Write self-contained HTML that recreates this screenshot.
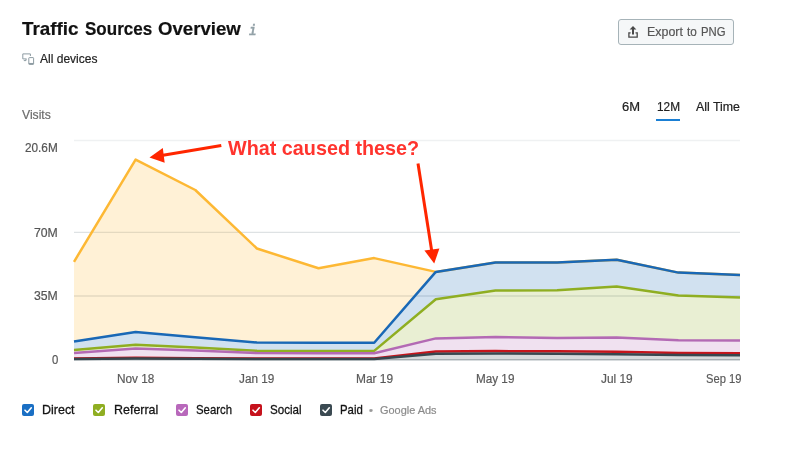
<!DOCTYPE html>
<html><head><meta charset="utf-8">
<title>Traffic Sources Overview</title>
<style>
html,body{margin:0;padding:0;background:#fff;}
body{width:790px;height:452px;position:relative;overflow:hidden;font-family:"Liberation Sans",sans-serif;color:#222;}
.abs{position:absolute;}
.t{position:absolute;white-space:nowrap;line-height:1;transform-origin:0 0;-webkit-text-stroke:0.2px currentColor;}
#info{left:249px;top:23.6px;font-size:14px;font-style:italic;font-family:"Liberation Mono",monospace;color:#94a2a8;font-weight:bold;line-height:1;transform:scaleX(0.88);transform-origin:0 0;-webkit-text-stroke:0.3px #94a2a8;}
#btn{left:618px;top:19px;width:114px;height:24px;border:1px solid #a6b3b8;border-radius:3px;background:#f5f7f8;}
#ul{left:656px;top:119px;width:24px;height:2px;background:#1a7fd4;}
.cb{position:absolute;top:404px;width:12px;height:12px;border-radius:2px;}
</style></head><body>
<div id="info" class="abs">i</div>
<svg class="abs" style="left:21px;top:52px" width="14" height="14" viewBox="0 0 14 14"><g fill="none" stroke="#8e9ca3" stroke-width="1"><path d="M9.4 4V1.9H1.8V6.9H5.6"/><path d="M5 7V8.6H2.8"/><rect x="7.8" y="5.6" width="4.8" height="6.8" rx="0.6"/><path d="M7.8 11.6H12.6" stroke-width="1.3"/></g></svg>
<div id="btn" class="abs"></div>
<svg class="abs" style="left:627px;top:25px" width="12" height="14" viewBox="0 0 12 14"><path d="M6 1.1L9.4 4.5H7V9.6H5V4.5H2.6Z" fill="#484848"/><path d="M3.6 7.8H1.9V12.2H10.2V7.8H8.5" fill="none" stroke="#484848" stroke-width="1.3"/></svg>
<div id="ul" class="abs"></div>
<svg class="abs" style="left:0;top:0" width="790" height="452" viewBox="0 0 790 452">
<g stroke-width="1.4"><line x1="74" x2="740" y1="140.5" y2="140.5" stroke="#eff1f2"/><line x1="74" x2="740" y1="232.4" y2="232.4" stroke="#dee2e4"/><line x1="74" x2="740" y1="296" y2="296" stroke="#dee2e4"/></g>
<line x1="74" x2="740" y1="359.7" y2="359.7" stroke="#c3cacc" stroke-width="1.6"/>
<polygon fill="#fdb834" fill-opacity="0.2" points="74,261.8 135.6,159.6 195.3,190 256.9,248.5 318.5,268.3 374.2,258.1 435.8,271.9 435.8,271.9 374.2,342.7 318.5,342.7 256.9,342.5 195.3,337.3 135.6,332 74,341.5"/>
<polygon fill="#1968b6" fill-opacity="0.2" points="74,341.5 135.6,332 195.3,337.3 256.9,342.5 318.5,342.7 374.2,342.7 435.8,271.9 495.5,262.4 557.1,262.4 616.7,259.7 678.4,272.6 740,275.1 740,297.4 678.4,295.4 616.7,286.5 557.1,290.2 495.5,290.5 435.8,299.2 374.2,350.9 318.5,350.9 256.9,350.8 195.3,347.6 135.6,344.7 74,350"/>
<polygon fill="#8fae22" fill-opacity="0.2" points="74,350 135.6,344.7 195.3,347.6 256.9,350.8 318.5,350.9 374.2,350.9 435.8,299.2 495.5,290.5 557.1,290.2 616.7,286.5 678.4,295.4 740,297.4 740,340.4 678.4,340.2 616.7,337.4 557.1,337.9 495.5,337 435.8,338.4 374.2,353.3 318.5,353.3 256.9,353.1 195.3,350.6 135.6,348.5 74,352.9"/>
<polygon fill="#b36ab4" fill-opacity="0.2" points="74,352.9 135.6,348.5 195.3,350.6 256.9,353.1 318.5,353.3 374.2,353.3 435.8,338.4 495.5,337 557.1,337.9 616.7,337.4 678.4,340.2 740,340.4 740,353.2 678.4,353 616.7,351.8 557.1,351.3 495.5,351.1 435.8,351.6 374.2,358.5 318.5,358.5 256.9,358.5 195.3,358.3 135.6,357.8 74,358.5"/>
<polygon fill="#c5141b" fill-opacity="0.2" points="74,358.5 135.6,357.8 195.3,358.3 256.9,358.5 318.5,358.5 374.2,358.5 435.8,351.6 495.5,351.1 557.1,351.3 616.7,351.8 678.4,353 740,353.2 740,355.2 678.4,355 616.7,354.2 557.1,353.7 495.5,353.5 435.8,353.7 374.2,358.9 318.5,358.9 256.9,358.9 195.3,358.8 135.6,358.5 74,358.9"/>
<polygon fill="#37474f" fill-opacity="0.2" points="74,358.9 135.6,358.5 195.3,358.8 256.9,358.9 318.5,358.9 374.2,358.9 435.8,353.7 495.5,353.5 557.1,353.7 616.7,354.2 678.4,355 740,355.2 740,360.3 678.4,360.3 616.7,360.3 557.1,360.3 495.5,360.3 435.8,360.3 374.2,360.3 318.5,360.3 256.9,360.3 195.3,360.3 135.6,360.3 74,360.3"/>
<g fill="none" stroke-width="2.5" stroke-linejoin="round">
<polyline stroke="#fdb834" points="74,261.8 135.6,159.6 195.3,190 256.9,248.5 318.5,268.3 374.2,258.1 435.8,271.9 495.5,262.4 557.1,262.4 616.7,259.7 678.4,272.6 740,275.1"/>
<polyline stroke="#1968b6" points="74,341.5 135.6,332 195.3,337.3 256.9,342.5 318.5,342.7 374.2,342.7 435.8,271.9 495.5,262.4 557.1,262.4 616.7,259.7 678.4,272.6 740,275.1"/>
<polyline stroke="#8fae22" points="74,350 135.6,344.7 195.3,347.6 256.9,350.8 318.5,350.9 374.2,350.9 435.8,299.2 495.5,290.5 557.1,290.2 616.7,286.5 678.4,295.4 740,297.4"/>
<polyline stroke="#b36ab4" points="74,352.9 135.6,348.5 195.3,350.6 256.9,353.1 318.5,353.3 374.2,353.3 435.8,338.4 495.5,337 557.1,337.9 616.7,337.4 678.4,340.2 740,340.4"/>
<polyline stroke="#c5141b" points="74,358.5 135.6,357.8 195.3,358.3 256.9,358.5 318.5,358.5 374.2,358.5 435.8,351.6 495.5,351.1 557.1,351.3 616.7,351.8 678.4,353 740,353.2"/>
<polyline stroke="#37474f" points="74,358.9 135.6,358.5 195.3,358.8 256.9,358.9 318.5,358.9 374.2,358.9 435.8,353.7 495.5,353.5 557.1,353.7 616.7,354.2 678.4,355 740,355.2"/>
</g>
<g stroke="#ff2600" stroke-width="3" fill="#ff2600">
<line x1="221.3" y1="145.6" x2="160" y2="155.8"/>
<polygon stroke="none" points="149.5,157.6 162.8,148.1 164.7,162.7"/>
<line x1="418" y1="163.5" x2="432" y2="252.8"/>
<polygon stroke="none" points="434.2,263.5 424.4,250.4 439.4,248.6"/>
</g>
<text x="228" y="154.6" textLength="191.2" lengthAdjust="spacingAndGlyphs" style="font-family:'Liberation Sans',sans-serif;font-weight:bold;font-size:20.5px" fill="#ff342e">What caused these?</text>
</svg>
<h1 style="margin:0;font-size:inherit;font-weight:inherit">
<span class="t" style="left:22.4px;top:19.74px;font-size:18.5px;color:#111;transform:scaleX(1.0174);font-weight:bold;">Traffic</span> 
<span class="t" style="left:84.7px;top:19.74px;font-size:18.5px;color:#111;transform:scaleX(0.9204);font-weight:bold;">Sources</span> 
<span class="t" style="left:158.3px;top:19.74px;font-size:18.5px;color:#111;transform:scaleX(1.0051);font-weight:bold;">Overview</span> 
</h1>
<div class="t" style="left:40px;top:53.22px;font-size:12.5px;color:#222;transform:scaleX(0.9623);">All devices</div>
<div class="t" style="left:22.4px;top:109.42px;font-size:12.5px;color:#6b6b6b;transform:scaleX(0.9716);">Visits</div>
<div class="t" style="left:647.4px;top:26.42px;font-size:12.5px;color:#555;transform:scaleX(0.9933);">Export</div>
<div class="t" style="left:687px;top:26.42px;font-size:12.5px;color:#555;transform:scaleX(0.9389);">to</div>
<div class="t" style="left:700.8px;top:26.42px;font-size:12.5px;color:#555;transform:scaleX(0.9043);">PNG</div>
<div class="t" style="left:622px;top:100.84px;font-size:12px;color:#222;transform:scaleX(1.0797);">6M</div>
<div class="t" style="left:657px;top:100.84px;font-size:12px;color:#222;transform:scaleX(0.9853);">12M</div>
<div class="t" style="left:696px;top:100.84px;font-size:12px;color:#222;transform:scaleX(1.0307);">All Time</div>
<div class="t" style="left:24.7px;top:142.47px;font-size:12.2px;color:#555;transform:scaleX(0.9653);">20.6M</div>
<div class="t" style="left:34px;top:227.42px;font-size:12.5px;color:#555;transform:scaleX(0.9783);">70M</div>
<div class="t" style="left:34px;top:290.32px;font-size:12.5px;color:#555;transform:scaleX(0.9783);">35M</div>
<div class="t" style="left:52px;top:354.42px;font-size:12.5px;color:#555;transform:scaleX(0.9061);">0</div>
<div class="t" style="left:117px;top:373.42px;font-size:12.5px;color:#5a5a5a;transform:scaleX(0.9442);">Nov 18</div>
<div class="t" style="left:239.1px;top:373.42px;font-size:12.5px;color:#5a5a5a;transform:scaleX(0.9405);">Jan 19</div>
<div class="t" style="left:355.5px;top:373.42px;font-size:12.5px;color:#5a5a5a;transform:scaleX(0.9536);">Mar 19</div>
<div class="t" style="left:475.9px;top:373.42px;font-size:12.5px;color:#5a5a5a;transform:scaleX(0.9366);">May 19</div>
<div class="t" style="left:600.8px;top:373.42px;font-size:12.5px;color:#5a5a5a;transform:scaleX(0.9503);">Jul 19</div>
<div class="t" style="left:705.6px;top:373.42px;font-size:12.5px;color:#5a5a5a;transform:scaleX(0.8934);">Sep 19</div>
<div class="t" style="left:42.2px;top:403.37px;font-size:13.5px;color:#141414;transform:scaleX(0.9244);-webkit-text-stroke:0.3px #141414;">Direct</div>
<div class="t" style="left:113.7px;top:403.37px;font-size:13.5px;color:#141414;transform:scaleX(0.9226);-webkit-text-stroke:0.3px #141414;">Referral</div>
<div class="t" style="left:196px;top:403.37px;font-size:13.5px;color:#141414;transform:scaleX(0.8415);-webkit-text-stroke:0.3px #141414;">Search</div>
<div class="t" style="left:270.4px;top:403.37px;font-size:13.5px;color:#141414;transform:scaleX(0.8591);-webkit-text-stroke:0.3px #141414;">Social</div>
<div class="t" style="left:340px;top:403.37px;font-size:13.5px;color:#141414;transform:scaleX(0.8435);-webkit-text-stroke:0.3px #141414;">Paid</div>
<div class="t" style="left:368.5px;top:405.49px;font-size:11px;color:#999;transform:scaleX(1.0364);">•</div>
<div class="t" style="left:379.5px;top:405.07px;font-size:11.5px;color:#8a8a8a;transform:scaleX(0.9501);">Google Ads</div>
<div class="cb" style="left:22px;background:#1a6fc4"></div>
<div class="cb" style="left:93px;background:#8fae22"></div>
<div class="cb" style="left:176px;background:#b868bb"></div>
<div class="cb" style="left:250px;background:#c6121c"></div>
<div class="cb" style="left:320px;background:#3b4a52"></div>
<svg class="abs" style="left:0;top:0;pointer-events:none" width="790" height="452"><g fill="none" stroke="#fff" stroke-width="1.6" stroke-linecap="round" stroke-linejoin="round">
<path d="M25 410.2L27.3 412.5L31.3 407.8"/>
<path d="M96 410.2L98.3 412.5L102.3 407.8"/>
<path d="M179 410.2L181.3 412.5L185.3 407.8"/>
<path d="M253 410.2L255.3 412.5L259.3 407.8"/>
<path d="M323 410.2L325.3 412.5L329.3 407.8"/>
</g></svg>
</body></html>
